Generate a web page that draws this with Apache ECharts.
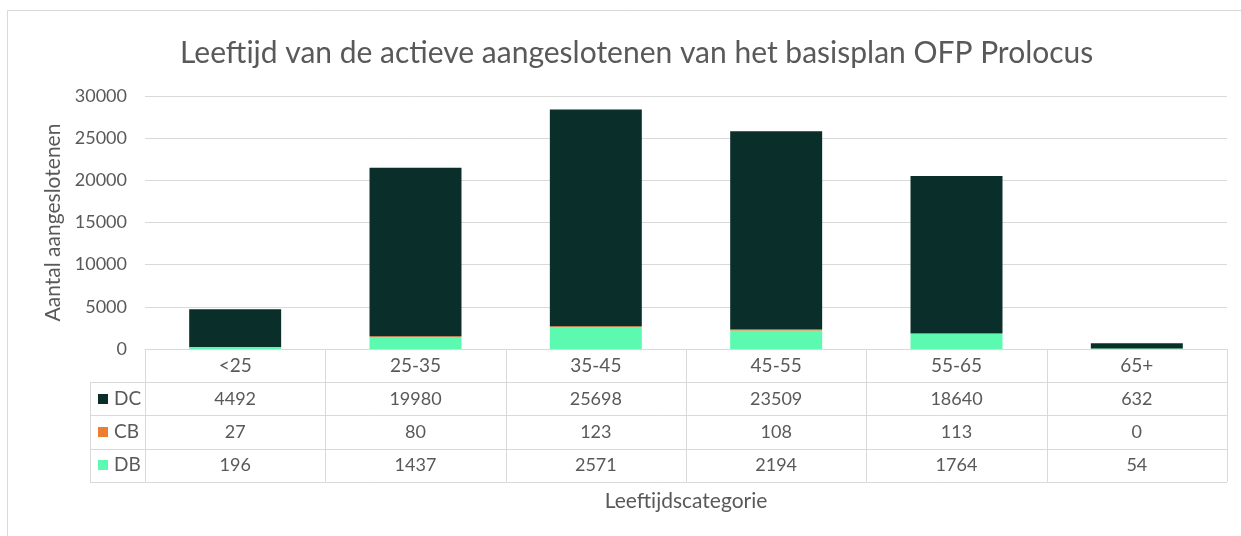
<!DOCTYPE html>
<html><head><meta charset="utf-8">
<script src="https://cdn.jsdelivr.net/npm/echarts@6/dist/echarts.min.js"></script>
<style>html,body{margin:0;padding:0;background:#fff}#c{width:1241px;height:536px}</style>
</head><body><div id="c"></div>
<script>
const categories = ['<25', '25-35', '35-45', '45-55', '55-65', '65+'];
const dcValues = [4492, 19980, 25698, 23509, 18640, 632];
const cbValues = [27, 80, 123, 108, 113, 0];
const dbValues = [196, 1437, 2571, 2194, 1764, 54];
const seriesNames = ['DC', 'CB', 'DB'];

const FONT = 'Lato';
const TXT = '#595959';
const LINE = '#D9D9D9';
const COLORS = { DC: '#0A2F2B', CB: '#ED7D31', DB: '#5CF9B0' };

const chart = echarts.init(document.getElementById('c'), null, { renderer: 'canvas' });

const option = {
  animation: false,
  backgroundColor: '#fff',
  title: {
    text: 'Leeftijd van de actieve aangeslotenen van het basisplan OFP Prolocus',
    left: 175, top: 33,
    textStyle: { fontFamily: FONT, fontSize: 30, fontWeight: 'normal', color: TXT }
  },
  grid: { left: 145, right: 14, top: 96, bottom: 187, containLabel: false },
  xAxis: {
    type: 'category',
    data: categories,
    axisLine: { lineStyle: { color: LINE } },
    axisTick: { show: false },
    axisLabel: { margin: 7, fontFamily: FONT, fontSize: 19, color: TXT },
    name: 'Leeftijdscategorie',
    nameLocation: 'middle',
    nameGap: 142,
    nameTextStyle: { fontFamily: FONT, fontSize: 21, color: TXT }
  },
  yAxis: {
    type: 'value', min: 0, max: 30000, interval: 5000,
    axisLine: { show: false }, axisTick: { show: false },
    splitLine: { lineStyle: { color: LINE } },
    axisLabel: { margin: 18, fontFamily: FONT, fontSize: 18, color: TXT, formatter: v => String(v) },
    name: 'Aantal aangeslotenen',
    nameLocation: 'middle', nameGap: 80,
    nameTextStyle: { fontFamily: FONT, fontSize: 21, color: TXT }
  },
  series: [
    { name: 'DB', type: 'bar', stack: 't', data: dbValues, barWidth: '51%', itemStyle: { color: COLORS.DB } },
    { name: 'CB', type: 'bar', stack: 't', data: cbValues, barWidth: '51%', itemStyle: { color: COLORS.CB } },
    { name: 'DC', type: 'bar', stack: 't', data: dcValues, barWidth: '51%', itemStyle: { color: COLORS.DC } }
  ]
};
chart.setOption(option);

function buildTable() {
  const c0 = chart.convertToPixel({ xAxisIndex: 0 }, 0);
  const c1 = chart.convertToPixel({ xAxisIndex: 0 }, 1);
  const bw = c1 - c0;
  const y0 = chart.convertToPixel({ yAxisIndex: 0 }, 0);
  const rowH = 33.2;
  const leftX = 90;
  const xStart = c0 - bw / 2;
  const xEnd = xStart + bw * categories.length;
  const rows = { DC: dcValues, CB: cbValues, DB: dbValues };
  const els = [];
  els.push({ type: 'rect', shape: { x: 7.5, y: 10.5, width: 1240, height: 540 }, style: { fill: 'none', stroke: LINE, lineWidth: 1 }, silent: true });
  for (let i = 0; i <= categories.length; i++) {
    const x = Math.round(xStart + i * bw) + 0.5;
    els.push({ type: 'line', shape: { x1: x, y1: y0, x2: x, y2: y0 + 4 * rowH }, style: { stroke: LINE, lineWidth: 1 } });
  }
  els.push({ type: 'line', shape: { x1: leftX + 0.5, y1: y0 + rowH, x2: leftX + 0.5, y2: y0 + 4 * rowH }, style: { stroke: LINE, lineWidth: 1 } });
  for (let k = 1; k <= 4; k++) {
    const y = Math.round(y0 + k * rowH) + 0.5;
    els.push({ type: 'line', shape: { x1: leftX, y1: y, x2: xEnd, y2: y }, style: { stroke: LINE, lineWidth: 1 } });
  }
  seriesNames.forEach((nm, r) => {
    const cy = y0 + (r + 1.5) * rowH;
    els.push({ type: 'rect', shape: { x: 98, y: Math.round(cy - 5), width: 10, height: 10 }, style: { fill: COLORS[nm] } });
    els.push({ type: 'text', x: 114, y: cy, style: { text: nm, font: '19px ' + FONT, fill: TXT, textAlign: 'left', textVerticalAlign: 'middle' } });
    rows[nm].forEach((v, i) => {
      const cx = chart.convertToPixel({ xAxisIndex: 0 }, i);
      els.push({ type: 'text', x: cx, y: cy, style: { text: String(v), font: '18px ' + FONT, fill: TXT, textAlign: 'center', textVerticalAlign: 'middle' } });
    });
  });
  chart.setOption({ graphic: { elements: els } });
}
buildTable();
</script>
</body></html>
